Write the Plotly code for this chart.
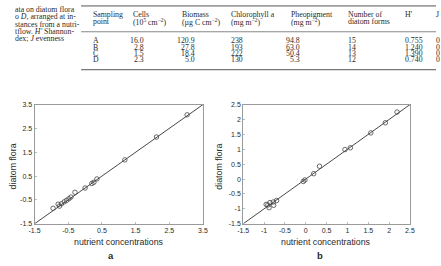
import plotly.graph_objects as go

# ---------------- data ----------------
caption_lines = ["ata on diatom flora", "o <i>D</i>, arranged at in-", "stances from a nutri-",
                 "tflow. <i>H'</i> Shannon-", "dex; <i>J</i> evenness"]

header_line1 = ["Sampling", "Cells", "Biomass", "Chlorophyll a", "Pheopigment", "Number of", "H'", "J"]
header_line2 = ["point", "(10<sup>5</sup> cm<sup>−2</sup>)", "(µg C cm<sup>−2</sup>)", "(mg m<sup>−2</sup>)",
                "(mg m<sup>−2</sup>)", "diatom forms", "", ""]
points = ["A", "B", "C", "D"]
cells = ["16.0", "2.8", "1.5", "2.3"]
biomass = ["120.9", "27.8", "18.4", "5.0"]
chlorophyll = ["238", "193", "222", "130"]
pheopigment = ["94.8", "63.0", "50.4", "5.3"]
n_forms = ["15", "14", "13", "12"]
h_index = ["0.755", "1.240", "1.390", "0.740"]
j_index = ["0", "0", "0", "0"]

a_x = [-0.95, -0.8, -0.76, -0.7, -0.62, -0.55, -0.48, -0.42, -0.3, 0.0, 0.2, 0.26, 0.35, 1.18, 2.12, 3.03]
a_y = [-0.85, -0.68, -0.76, -0.66, -0.58, -0.52, -0.45, -0.38, -0.18, 0.0, 0.19, 0.24, 0.38, 1.18, 2.14, 3.07]
a_line = [-1.5, 3.5]
a_ticks = [-1.5, -0.5, 0.5, 1.5, 2.5, 3.5]
a_ticktext = ["-1.5", "-0.5", "0.5", "1.5", "2.5", "3.5"]

b_x = [-0.95, -0.91, -0.88, -0.86, -0.78, -0.77, -0.70, -0.06, -0.02, 0.19, 0.33, 0.94, 1.07, 1.56, 1.91, 2.19]
b_y = [-0.85, -0.87, -0.96, -0.79, -0.77, -0.88, -0.72, -0.08, -0.03, 0.18, 0.43, 0.99, 1.05, 1.55, 1.89, 2.25]
b_line = [-1.5, 2.5]
b_ticks = [-1.5, -1, -0.5, 0, 0.5, 1, 1.5, 2, 2.5]
b_ticktext = ["-1.5", "-1", "-0.5", "0", "0.5", "1", "1.5", "2", "2.5"]

# ---------------- layout helpers ----------------
W, H = 441, 266
def px(x):
    return x / W
def py(y):
    return 1 - y / H

TXT = "#2a2a2a"
SERIF = "Liberation Serif"
SANS = "Liberation Sans"

fig = go.Figure()

mk = dict(symbol="circle-open", size=4.5, color="#444", line=dict(width=0.8, color="#444"))
fig.add_trace(go.Scatter(x=a_line, y=a_line, mode="lines", line=dict(color="#333", width=0.9),
                         xaxis="x", yaxis="y", showlegend=False))
fig.add_trace(go.Scatter(x=a_x, y=a_y, mode="markers", marker=mk, xaxis="x", yaxis="y", showlegend=False))
fig.add_trace(go.Scatter(x=b_line, y=b_line, mode="lines", line=dict(color="#333", width=0.9),
                         xaxis="x2", yaxis="y2", showlegend=False))
fig.add_trace(go.Scatter(x=b_x, y=b_y, mode="markers", marker=mk, xaxis="x2", yaxis="y2", showlegend=False))

axcommon = dict(showgrid=False, zeroline=False, showline=True, linecolor="#9a9a9a", linewidth=1,
                mirror=True, ticks="inside", ticklen=2, tickcolor="#bbbbbb",
                tickfont=dict(family=SANS, size=7, color=TXT), tickmode="array")

fig.update_layout(
    width=W, height=H, margin=dict(l=0, r=0, t=0, b=0),
    paper_bgcolor="white", plot_bgcolor="white",
    xaxis=dict(domain=[px(29.3), px(202)], range=[-1.5, 3.5], tickvals=a_ticks, ticktext=a_ticktext,
               anchor="y", **axcommon),
    yaxis=dict(domain=[py(225.7), py(103.3)], range=[-1.5, 3.5], tickvals=a_ticks, ticktext=a_ticktext,
               anchor="x", **axcommon),
    xaxis2=dict(domain=[px(243.3), px(414.3)], range=[-1.5, 2.5], tickvals=b_ticks, ticktext=b_ticktext,
                anchor="y2", **axcommon),
    yaxis2=dict(domain=[py(225.7), py(103.3)], range=[-1.5, 2.5], tickvals=b_ticks, ticktext=b_ticktext,
                anchor="x2", **axcommon),
)

ann = []
def add(text, x, y, size, family=SERIF, xanchor="left", yanchor="middle", angle=0, bold=False):
    if not text:
        return
    if bold:
        text = "<b>" + text + "</b>"
    ann.append(dict(text=text, x=px(x), y=py(y), xref="paper", yref="paper", showarrow=False,
                    xanchor=xanchor, yanchor=yanchor, textangle=angle,
                    font=dict(family=family, size=size, color=TXT)))

TS = 7.8
# caption fragment
cap_y = [6, 13.3, 20.6, 27.8, 35]
for t, yy in zip(caption_lines, cap_y):
    add(t, 7, yy, TS)

# table header (two lines, tight spacing as in the print)
head_x = [87, 128, 178, 229, 290, 349, 407, 439]
for t1, t2, xx in zip(header_line1, header_line2, head_x):
    add(t1, xx, 11, TS)
    add(t2, xx, 18, TS)

row_y = [38, 44.2, 50.4, 56.6]
for i, yy in enumerate(row_y):
    add(points[i], 87, yy, TS)
    add(cells[i], 143.5, yy, TS, xanchor="right")
    add(biomass[i], 195.5, yy, TS, xanchor="right")
    add(chlorophyll[i], 229, yy, TS)
    add(pheopigment[i], 303.5, yy, TS, xanchor="right")
    add(n_forms[i], 349, yy, TS)
    add(h_index[i], 407, yy, TS)
    add(j_index[i], 439, yy, TS)

# axis titles and panel letters
add("nutrient concentrations", 115.5, 244.5, 8.8, family=SANS, xanchor="center")
add("nutrient concentrations", 328.5, 244.5, 8.8, family=SANS, xanchor="center")
add("diatom flora", 7, 167, 8.8, family=SANS, xanchor="center", angle=-90)
add("diatom flora", 218.5, 167, 8.8, family=SANS, xanchor="center", angle=-90)
add("a", 108, 258.5, 9.5, family=SANS, xanchor="center", bold=True)
add("b", 322, 258.5, 9.5, family=SANS, xanchor="center", bold=True)

fig.update_layout(annotations=ann)

# table rules
rules = [(2, 1.0), (28.5, 0.7), (67.5, 1.0)]
fig.update_layout(shapes=[dict(type="line", xref="paper", yref="paper", x0=px(77), x1=1.0,
                               y0=py(yy), y1=py(yy), line=dict(color="#555", width=w)) for yy, w in rules])

fig.write_html("out.html")
